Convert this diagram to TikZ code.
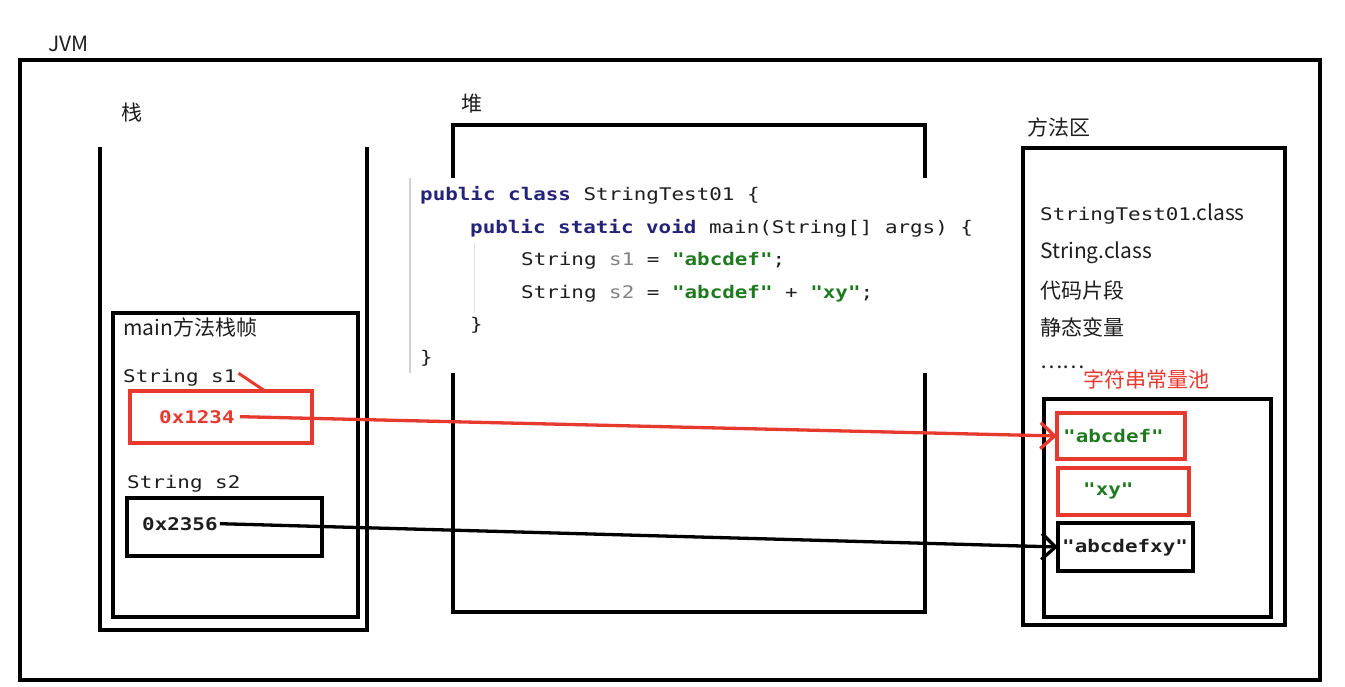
\documentclass[tikz,border=0pt]{standalone}
\usepackage{fontspec}
\setmainfont{Noto Sans CJK SC}
\newfontfamily\codefont[FakeStretch=1.2]{DejaVu Sans Mono}
\usetikzlibrary{arrows.meta}
\definecolor{kw}{RGB}{35,35,120}
\definecolor{strg}{RGB}{30,122,30}
\definecolor{vgray}{RGB}{130,130,130}
\definecolor{ink}{RGB}{30,30,30}
\definecolor{myred}{RGB}{232,57,47}
\begin{document}
\begin{tikzpicture}[x=1pt,y=-1pt,
  box/.style={draw=black, line width=3.8pt, inner sep=0pt, outer sep=0pt},
  redbox/.style={box, draw=myred},
  lbl/.style={anchor=base west, inner sep=0pt, font=\fontsize{21}{25}\selectfont, text=ink},
  code/.style={anchor=base west, inner sep=0pt, font=\codefont\fontsize{17.4}{20}\selectfont, text=ink},
  ptr/.style={line width=3.3pt, -{Straight Barb[length=14pt,width=26pt]}}]
\useasboundingbox (0,0) rectangle (1345,686);
\fill[white] (0,0) rectangle (1345,686);

% JVM
\node[box, line width=4pt, minimum width=1300pt, minimum height=620pt] (jvm) at (670,370) {};
\node[lbl] (jvml) at (48,51) {JVM};

% stack
\draw[line width=4pt, line cap=butt] (100,147) -- (100,630) -- (367,630) -- (367,147);
\node[lbl] (stackl) at (121,120.5) {栈};
\node[box, minimum width=245pt, minimum height=304pt] (frame) at (235.5,465) {};
\node[lbl] (framel) at (123,335.5) {main方法栈帧};
\node[code] (s1) at (123,382) {String s1};
\node[redbox, minimum width=182pt, minimum height=52pt] (s1box) at (221,417) {};
\node[code, text=myred] (t1) at (159,423) {\textbf{0x1234}};
\node[code] (s2) at (127,488) {String s2};
\node[box, minimum width=195pt, minimum height=58pt] (s2box) at (224.5,527) {};
\node[code] (t2) at (142,530) {\textbf{0x2356}};

% heap
\node[box, line width=4pt, minimum width=472pt, minimum height=487pt] (heap) at (689,368.5) {};
\node[lbl] (heapl) at (461,111.5) {堆};

% code panel
\fill[white] (409,178) rectangle (1000,373);
\draw[black!18, line width=1.5pt] (410,178) -- (410,373);
\draw[black!12, line width=1pt] (474,243) -- (474,313);
\node[code] (c1) at (420,200.5) {\textcolor{kw}{\textbf{public class}} StringTest01 \{};
\node[code] (c2) at (470,233) {\textcolor{kw}{\textbf{public static void}} main(String[] args) \{};
\node[code] (c3) at (521,265.5) {String \textcolor{vgray}{s1} = \textcolor{strg}{\textbf{"abcdef"}};};
\node[code] (c4) at (521,298) {String \textcolor{vgray}{s2} = \textcolor{strg}{\textbf{"abcdef"}} + \textcolor{strg}{\textbf{"xy"}};};
\node[code] (c5) at (470,330.5) {\}};
\node[code] (c6) at (420,363) {\}};

% method area
\node[box, line width=4pt, minimum width=262pt, minimum height=477pt] (method) at (1154,386.5) {};
\node[lbl] (methodl) at (1027,135) {方法区};
\node[lbl] (m1) at (1040,220) {{\codefont\fontsize{17.4}{20}\selectfont StringTest01}.class};
\node[lbl] (m2) at (1040,258) {String.class};
\node[lbl] (m3) at (1040,298.5) {代码片段};
\node[lbl] (m4) at (1040,335.5) {静态变量};
\node[lbl] (m5) at (1040,368) {……};
\node[lbl, text=myred] (pooll) at (1083,387) {字符串常量池};
\node[box, minimum width=227pt, minimum height=218pt] (pool) at (1157.5,508) {};
\node[redbox, minimum width=128pt, minimum height=46pt] (abox) at (1121,436) {};
\node[code, text=strg] (at) at (1063,442) {\textbf{"abcdef"}};
\node[redbox, minimum width=131pt, minimum height=47pt] (xybox) at (1123.5,491.5) {};
\node[code, text=strg] (xyt) at (1083,495) {\textbf{"xy"}};
\node[box, minimum width=135pt, minimum height=48pt] (cbox) at (1125.5,547) {};
\node[code] (ct) at (1062,552) {\textbf{"abcdefxy"}};

% connectors
\draw[myred, line width=3pt] ([shift={(2pt,4pt)}]s1.east) -- ([xshift=44pt]s1box.north);
\draw[ptr, myred] ([xshift=5pt]t1.east) -- (abox.west);
\draw[ptr, black] ([xshift=2pt]t2.east) -- (cbox.west);
\end{tikzpicture}
\end{document}
